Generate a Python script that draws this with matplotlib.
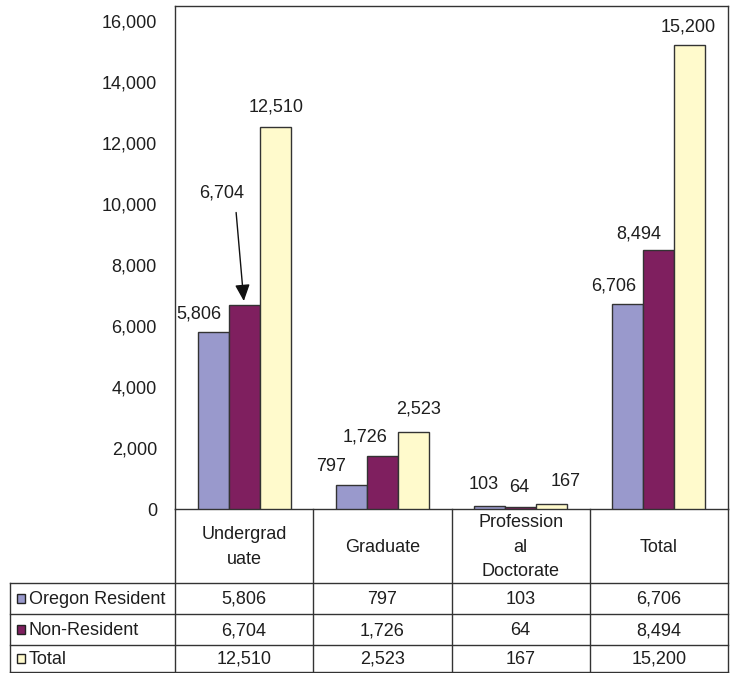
import matplotlib
matplotlib.use('Agg')
import matplotlib.pyplot as plt
from matplotlib.ticker import FuncFormatter

plt.rcParams['font.family'] = ['Liberation Sans', 'DejaVu Sans']

categories = ['Undergrad\nuate', 'Graduate', 'Profession\nal\nDoctorate', 'Total']
series_names = ['Oregon Resident', 'Non-Resident', 'Total']
oregon_resident = [5806, 797, 103, 6706]
non_resident = [6704, 1726, 64, 8494]
total = [12510, 2523, 167, 15200]
yticks = [0, 2000, 4000, 6000, 8000, 10000, 12000, 14000, 16000]

series = [oregon_resident, non_resident, total]
colors = ['#9999CC', '#7F1F5F', '#FFFACC']
edge = '#333333'
txt = '#1e1e1e'
fs = 13

# label offsets in pixels from top-centre of each bar (Excel placed them by hand)
label_offsets = [
    [(-14, 18), (-20, 18), (-6, 21), (-14, 18)],
    [None, (-17, 19), (-1, 20), (-20, 16)],
    [(1, 20), (5, 23), (14, 22), (-2, 18)],
]

W, H = 738, 673
fig = plt.figure(figsize=(W / 100, H / 100), dpi=100)

left, right, top, bottom = 175, 728, 6, 509
ax = fig.add_axes([left / W, (H - bottom) / H, (right - left) / W, (bottom - top) / H])

bw = 0.224
for s, (vals, col) in enumerate(zip(series, colors)):
    xs = [i + (s - 1) * bw for i in range(len(categories))]
    ax.bar(xs, vals, width=bw, color=col, edgecolor=edge, linewidth=1, zorder=3)
    for i, (x, v) in enumerate(zip(xs, vals)):
        off = label_offsets[s][i]
        if off is None:
            # the arrowed label
            ax.annotate(f'{v:,}', xy=(x, v), xytext=(-23, 112), textcoords='offset pixels',
                        ha='center', va='center', fontsize=fs, color=txt)
            ax.annotate('', xy=(x, v), xytext=(-8, 92), textcoords='offset pixels',
                        arrowprops=dict(arrowstyle='-|>,head_length=1.0,head_width=0.45',
                                        mutation_scale=10, color='#111111', lw=1,
                                        shrinkA=0, shrinkB=2.5))
        else:
            ax.annotate(f'{v:,}', xy=(x, v), xytext=off, textcoords='offset pixels',
                        ha='center', va='center', fontsize=fs, color=txt)

ax.set_xlim(-0.5, len(categories) - 0.5)
ax.set_ylim(0, 16490)
ax.set_yticks(yticks)
ax.yaxis.set_major_formatter(FuncFormatter(lambda v, p: f'{int(v):,}'))
ax.tick_params(axis='y', length=0, pad=13, labelsize=fs, labelcolor=txt)
ax.set_xticks([])
for sp in ax.spines.values():
    sp.set_color(edge)
    sp.set_linewidth(1)

# data table below the plot, drawn in pixel coordinates
tab = fig.add_axes([0, 0, 1, 1])
tab.set_xlim(0, W)
tab.set_ylim(H, 0)
tab.axis('off')
tab.patch.set_alpha(0)

col_w = (right - left) / len(categories)
col_edges = [left + i * col_w for i in range(len(categories) + 1)]
head_bot = 583
row_edges = [583, 614, 645, 672]
lkw = dict(color=edge, lw=1)
for y in row_edges:
    tab.plot([10, right], [y, y], **lkw)
tab.plot([10, 10], [head_bot, row_edges[-1]], **lkw)
for x in col_edges:
    tab.plot([x, x], [bottom, row_edges[-1]], **lkw)

for i, cat in enumerate(categories):
    cx = (col_edges[i] + col_edges[i + 1]) / 2
    tab.text(cx, (bottom + head_bot) / 2 + 1, cat, ha='center', va='center',
             fontsize=fs, color=txt, linespacing=1.55)

for r, (name, vals, col) in enumerate(zip(series_names, series, colors)):
    cy = (row_edges[r] + row_edges[r + 1]) / 2
    tab.add_patch(plt.Rectangle((17, cy - 4.5), 8, 9, facecolor=col, edgecolor='#222222', lw=1))
    tab.text(29, cy + 1, name, ha='left', va='center', fontsize=fs, color=txt)
    for i, v in enumerate(vals):
        cx = (col_edges[i] + col_edges[i + 1]) / 2
        tab.text(cx, cy + 1, f'{v:,}', ha='center', va='center', fontsize=fs, color=txt)

fig.savefig('out.png', dpi=100)
